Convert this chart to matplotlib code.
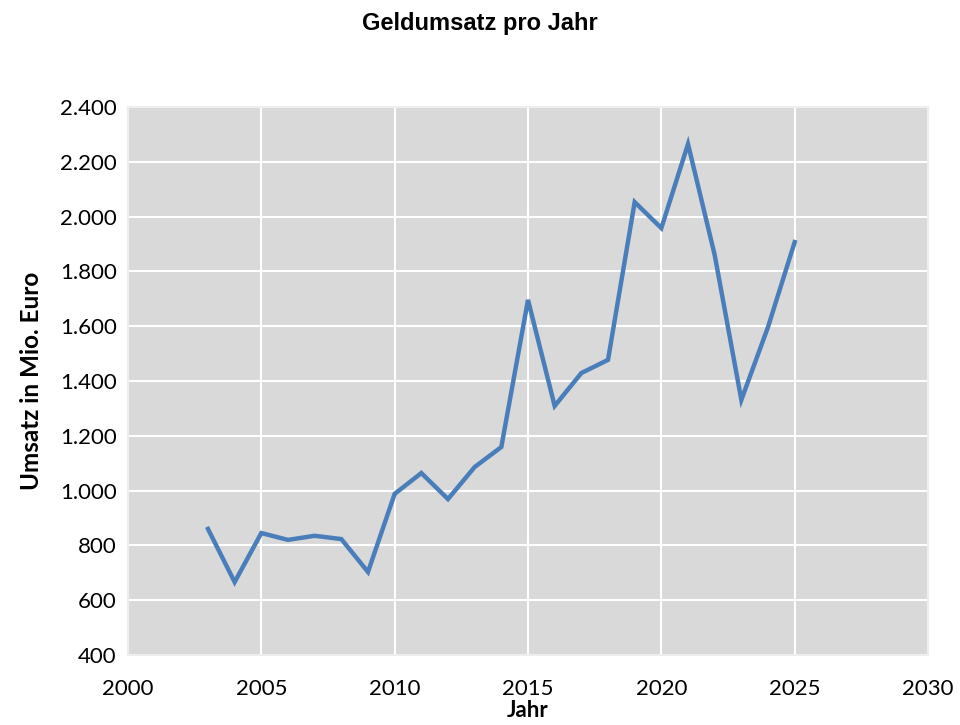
import matplotlib
matplotlib.use('Agg')
import matplotlib.pyplot as plt
from matplotlib.ticker import FuncFormatter, MultipleLocator

jahre = list(range(2003, 2026))
umsatz = [860, 666, 845, 820, 835, 823, 703, 988, 1064, 969, 1086, 1159,
          1696, 1309, 1429, 1477, 2053, 1958, 2265, 1860, 1331, 1597, 1907]

plt.rcParams['font.family'] = ['Lato', 'DejaVu Sans']

fig = plt.figure(figsize=(9.6, 7.25), dpi=100)
ax = fig.add_axes([0.1333, 0.0966, 0.8334, 0.7558])
ax.set_facecolor('#d9d9d9')
ax.plot(jahre, umsatz, color='#4a7ebb', linewidth=3.2, solid_joinstyle='miter', zorder=3)

ax.set_xlim(2000, 2030)
ax.set_ylim(400, 2400)
ax.xaxis.set_major_locator(MultipleLocator(5))
ax.yaxis.set_major_locator(MultipleLocator(200))
ax.yaxis.set_major_formatter(FuncFormatter(lambda v, p: f'{int(v):,}'.replace(',', '.')))
ax.grid(True, color='white', linewidth=1.5, zorder=1)
ax.set_axisbelow(True)
for s in ax.spines.values():
    s.set_color('#eeeeee')
    s.set_linewidth(1.5)
ax.tick_params(length=0, labelsize=16, pad=8)
ax.tick_params(axis='x', pad=17)

ax.set_xlabel('Jahr', fontsize=16, fontweight='bold', labelpad=1)
ax.set_ylabel('Umsatz in Mio. Euro', fontsize=17.5, fontweight='bold', labelpad=12)
fig.text(0.5, 0.968, 'Geldumsatz pro Jahr', ha='center', va='center', fontsize=17,
         fontweight='bold', family=['Liberation Sans', 'DejaVu Sans'])

fig.savefig('out.png', dpi=100)
